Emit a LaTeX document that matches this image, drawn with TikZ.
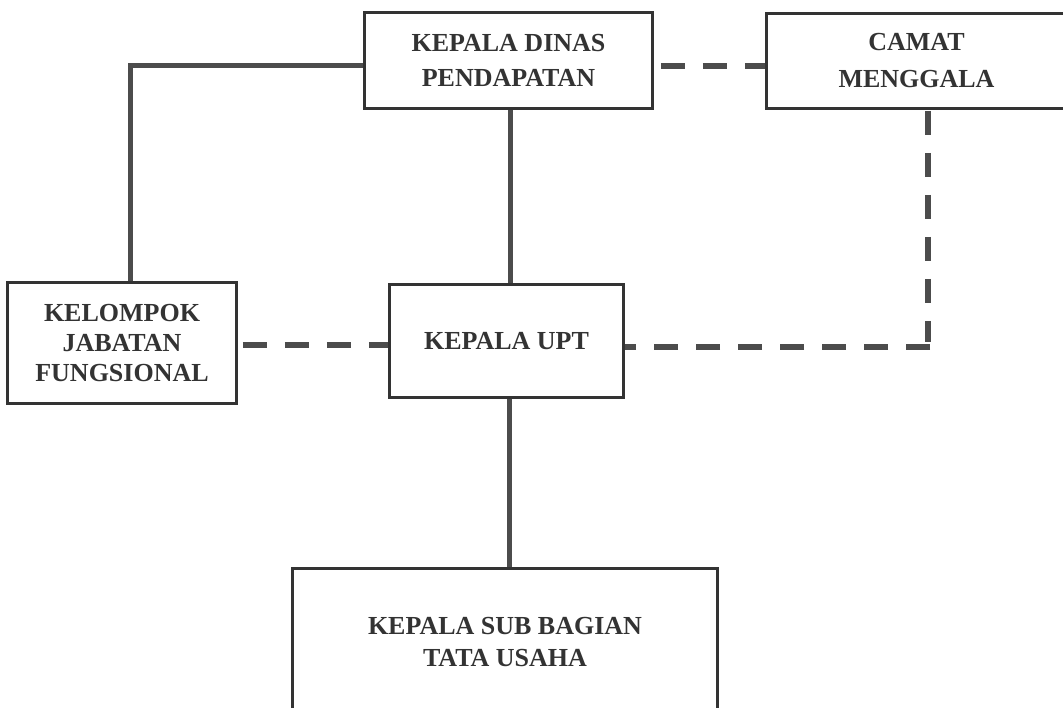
\documentclass[tikz,border=0pt]{standalone}
\usepackage{fontspec}
\setmainfont{Liberation Serif}
\begin{document}
\begin{tikzpicture}[x=1pt,y=-1pt,
  box/.style={draw=black!80, line width=1.8pt, fill=white, inner sep=0pt,
    align=center, text=black!80, font=\bfseries\fontsize{26}{35}\selectfont},
  solidline/.style={draw=black!70, line width=5pt},
  dashline/.style={draw=black!70, line width=6pt, dash pattern=on 24pt off 18pt}]
\useasboundingbox (0,0) rectangle (1063,707);
\fill[white] (0,0) rectangle (1063,707);
\clip (0,0) rectangle (1063,707);
\node[box, minimum width=287pt, minimum height=95pt] (dinas) at (508.5,60.5) {KEPALA DINAS\\PENDAPATAN};
\node[box, minimum width=299pt, minimum height=94pt, font=\bfseries\fontsize{26}{37}\selectfont] (camat) at (916.5,61) {CAMAT\\MENGGALA};
\node[box, minimum width=228pt, minimum height=120pt, font=\bfseries\fontsize{26}{30}\selectfont] (kelompok) at (122,343) {KELOMPOK\\JABATAN\\FUNGSIONAL};
\node[box, minimum width=233pt, minimum height=112pt] (upt) at (506.5,341) {KEPALA UPT};
\node[box, minimum width=424pt, minimum height=146pt, font=\bfseries\fontsize{26}{32}\selectfont] (sub) at (505,642) {KEPALA SUB BAGIAN\\TATA USAHA};
\coordinate (corner) at (928,347);
% solid connectors
\draw[solidline] ([yshift=-4.5pt]dinas.west) -| ([xshift=8pt]kelompok.north);
\draw[solidline] ([xshift=1.5pt]dinas.south) -- ([xshift=1.5pt]dinas.south |- upt.north);
\draw[solidline] ([xshift=2.5pt]upt.south) -- ([xshift=2.5pt]upt.south |- sub.north);
% dashed connectors
\draw[dashline, dash phase=34pt] ([yshift=-5.5pt]dinas.east) -- ([yshift=-5.5pt]dinas.east -| camat.west);
\draw[dashline, dash phase=36pt] ([yshift=-2pt]kelompok.east) -- ([yshift=-2pt]kelompok.east -| upt.west);
\draw[dashline, dash phase=40pt] (camat.south -| corner) -- ([yshift=5pt]corner);
\draw[dashline, dash phase=41pt] ([xshift=3pt]corner) -- (corner -| upt.east);
% redraw box borders over connector ends
\foreach \n in {dinas,camat,kelompok,upt,sub}
  \draw[black!80, line width=1.8pt] (\n.north west) rectangle (\n.south east);
\end{tikzpicture}
\end{document}
